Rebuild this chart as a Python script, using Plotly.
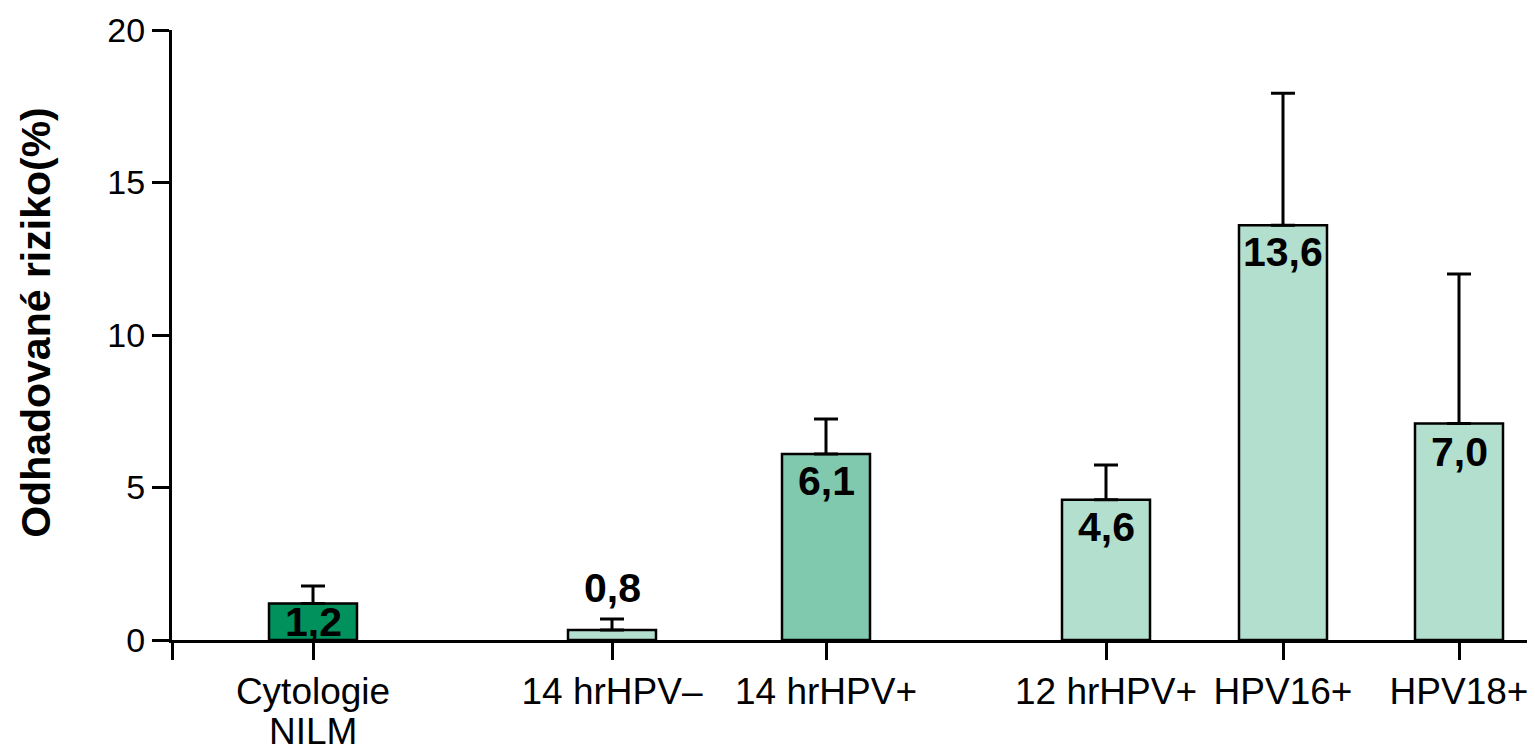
import plotly.graph_objects as go

# ---- data ----
categories = [["Cytologie", "NILM"], ["14 hrHPV–"], ["14 hrHPV+"], ["12 hrHPV+"], ["HPV16+"], ["HPV18+"]]
values = [1.2, 0.33, 6.1, 4.6, 13.6, 7.1]
upper_ci = [1.77, 0.69, 7.25, 5.74, 17.93, 12.0]
value_labels = ["1,2", "0,8", "6,1", "4,6", "13,6", "7,0"]
y_ticks = [0, 5, 10, 15, 20]

# ---- layout / style ----
bar_centers = [141, 440, 654, 934, 1111, 1287]
bar_colors = ["#00915C", "#B3DFCF", "#80C9AE", "#B3DFCF", "#B3DFCF", "#B3DFCF"]
label_shift = [-19, 42, -27, -27, -27, -29]
FONT = "Arial, 'Liberation Sans', sans-serif"

err_plus = [u - v for u, v in zip(upper_ci, values)]
err_minus = [0 for _ in values]

fig = go.Figure()
fig.add_trace(go.Bar(
    x=bar_centers, y=values, width=88,
    marker=dict(color=bar_colors, line=dict(color="black", width=2.5)),
    error_y=dict(type="data", symmetric=False, array=err_plus, arrayminus=err_minus,
                 color="black", thickness=3, width=12),
    hoverinfo="skip",
))

for xc, v, lab, sh in zip(bar_centers, values, value_labels, label_shift):
    fig.add_annotation(x=xc, y=v, text=f"<b>{lab}</b>", showarrow=False,
                       xref="x", yref="y", yanchor="middle", yshift=sh,
                       font=dict(family=FONT, size=41, color="black"))

# second lines of category labels (tighter line spacing than plotly's default)
for xc, cat in zip(bar_centers, categories):
    for i, line in enumerate(cat[1:], start=1):
        fig.add_annotation(x=xc, y=0, text=line, showarrow=False,
                           xref="x", yref="paper", yanchor="top", yshift=-69 - 43 * (i - 1),
                           font=dict(family=FONT, size=37, color="black"))

fig.add_annotation(text="<b>Odhadované riziko(%)</b>", textangle=-90, showarrow=False,
                   xref="paper", yref="y", x=0, y=10.4, xanchor="center", xshift=-136,
                   font=dict(family=FONT, size=41, color="black"))

# page body has an 8px default margin, so the figure is 8px smaller on each axis
fig.update_layout(
    width=1527, height=741,
    margin=dict(l=164, r=0, t=22, b=109),
    plot_bgcolor="white", paper_bgcolor="white",
    showlegend=False,
    xaxis=dict(range=[0, 1363], tickmode="array", automargin=False,
               tickvals=[0] + bar_centers, ticktext=[""] + [c[0] for c in categories],
               showline=True, linecolor="black", linewidth=3,
               ticks="outside", ticklen=17, tickwidth=3, tickcolor="black",
               showgrid=False, zeroline=False,
               tickfont=dict(family=FONT, size=37, color="black")),
    yaxis=dict(range=[0, 20], tickmode="array", tickvals=y_ticks, automargin=False,
               showline=True, linecolor="black", linewidth=3,
               ticks="outside", ticklen=17, tickwidth=3, tickcolor="black",
               showgrid=False, zeroline=False,
               tickfont=dict(family=FONT, size=34, color="black")),
)

fig.write_html("out.html")
